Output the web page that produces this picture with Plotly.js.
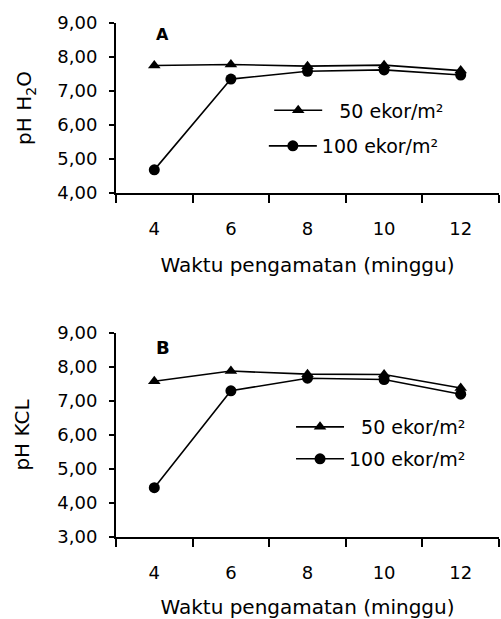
<!DOCTYPE html>
<html>
<head>
<meta charset="utf-8">
<script src="https://cdn.plot.ly/plotly-3.0.1.min.js"></script>
<style>html,body{margin:0;padding:0;background:#fff;}#chart{width:501px;height:619px;}</style>
</head>
<body>
<div id="chart"></div>
<script>
// Data
const weeks = ['4', '6', '8', '10', '12'];
const phH2O_50 = [7.75, 7.78, 7.73, 7.76, 7.60];
const phH2O_100 = [4.68, 7.35, 7.58, 7.62, 7.47];
const phKCL_50 = [7.58, 7.88, 7.79, 7.78, 7.38];
const phKCL_100 = [4.45, 7.30, 7.67, 7.63, 7.20];
const seriesNames = ['50 ekor/m²', '100 ekor/m²'];
const panelLabels = ['A', 'B'];
const yTitles = ['pH H<sub>2</sub>O', 'pH KCL'];
const xTitle = 'Waktu pengamatan (minggu)';

const FONT = 'DejaVu Sans, sans-serif';
const lineStyle = {color: '#000', width: 1.6};

const traces = [
  {x: weeks, y: phH2O_50, name: '\u00a0\u00a0' + seriesNames[0], xaxis: 'x', yaxis: 'y', mode: 'lines+markers',
   line: lineStyle, marker: {symbol: 'triangle-up', size: 11, color: '#000'}, legend: 'legend'},
  {x: weeks, y: phH2O_100, name: seriesNames[1], xaxis: 'x', yaxis: 'y', mode: 'lines+markers',
   line: lineStyle, marker: {symbol: 'circle', size: 11, color: '#000'}, legend: 'legend2'},
  {x: weeks, y: phKCL_50, name: '\u00a0\u00a0' + seriesNames[0], xaxis: 'x2', yaxis: 'y2', mode: 'lines+markers',
   line: lineStyle, marker: {symbol: 'triangle-up', size: 11, color: '#000'}, legend: 'legend3'},
  {x: weeks, y: phKCL_100, name: seriesNames[1], xaxis: 'x2', yaxis: 'y2', mode: 'lines+markers',
   line: lineStyle, marker: {symbol: 'circle', size: 11, color: '#000'}, legend: 'legend4'}
];

const xBase = {
  type: 'category', range: [-0.5, 4.5], tickson: 'boundaries', ticks: 'outside', ticklen: 8, tickwidth: 2,
  tickcolor: '#000', showline: true, linecolor: '#000', linewidth: 2, showgrid: false, zeroline: false,
  tickfont: {family: FONT, size: 18, color: '#000'}, ticklabelstandoff: 18, automargin: false,
  title: {text: xTitle, font: {family: FONT, size: 20, color: '#000'}, standoff: 20}
};
const yBase = {
  dtick: 1, tickformat: '.2f', ticks: 'outside', ticklen: 5, tickwidth: 2, tickcolor: '#000',
  showline: true, linecolor: '#000', linewidth: 2, showgrid: false, zeroline: false,
  tickfont: {family: FONT, size: 18, color: '#000'}, ticklabelstandoff: 8, automargin: false
};

const legBase = {xanchor: 'left', yanchor: 'middle', bgcolor: 'rgba(0,0,0,0)', borderwidth: 0,
  itemwidth: 48, font: {family: FONT, size: 19, color: '#000'}};

const layout = {
  width: 501, height: 619,
  margin: {l: 116, r: 2, t: 23, b: 82},
  paper_bgcolor: '#fff', plot_bgcolor: '#fff',
  separators: ',.',
  showlegend: true,
  xaxis: Object.assign({}, xBase, {domain: [0, 1], anchor: 'y'}),
  yaxis: Object.assign({}, yBase, {domain: [0.6693, 1], range: [4, 9], anchor: 'x',
    title: {text: yTitles[0], font: {family: FONT, size: 20, color: '#000'}, standoff: 20}}),
  xaxis2: Object.assign({}, xBase, {domain: [0, 1], anchor: 'y2'}),
  yaxis2: Object.assign({}, yBase, {domain: [0, 0.3969], range: [3, 9], anchor: 'x2',
    title: {text: yTitles[1], font: {family: FONT, size: 20, color: '#000'}, standoff: 22}}),
  legend: Object.assign({}, legBase, {x: 0.40, y: 0.83}),
  legend2: Object.assign({}, legBase, {x: 0.386, y: 0.7607}),
  legend3: Object.assign({}, legBase, {x: 0.457, y: 0.2140}),
  legend4: Object.assign({}, legBase, {x: 0.457, y: 0.1518}),
  annotations: [
    {text: '<b>' + panelLabels[0] + '</b>', xref: 'paper', yref: 'paper', x: 0.10, y: 1.0, showarrow: false,
     font: {family: FONT, size: 16, color: '#000'}},
    {text: '<b>' + panelLabels[1] + '</b>', xref: 'paper', yref: 'paper', x: 0.10, y: 0.368, showarrow: false,
     font: {family: FONT, size: 18, color: '#000'}}
  ]
};

Plotly.newPlot('chart', traces, layout, {staticPlot: true, displayModeBar: false});
</script>
</body>
</html>
